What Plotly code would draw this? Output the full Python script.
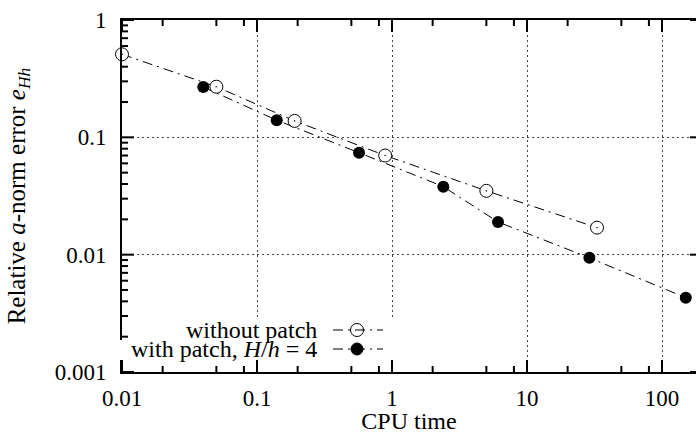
import plotly.graph_objects as go

# ---- data ----
cpu_without = [0.01, 0.05, 0.19, 0.89, 5.0, 33.0]
err_without = [0.51, 0.27, 0.138, 0.070, 0.035, 0.017]

cpu_with = [0.04, 0.14, 0.57, 2.4, 6.1, 29.0, 150.0]
err_with = [0.268, 0.14, 0.074, 0.038, 0.019, 0.0094, 0.0043]

name_without = "without patch"
name_with = "with patch, <i>H</i>/<i>h</i> = 4"

x_ticks = [0.01, 0.1, 1, 10, 100]
x_ticktext = ["0.01", "0.1", "1", "10", "100"]
x_minor = [0.02, 0.05, 0.08, 0.2, 0.5, 0.8, 2, 5, 8, 20, 50, 80]
y_ticks = [0.001, 0.01, 0.1, 1]
y_ticktext = ["0.001", "0.01", "0.1", "1"]
y_minor = [0.002, 0.003, 0.004, 0.005, 0.006, 0.007, 0.008, 0.009,
           0.02, 0.03, 0.04, 0.05, 0.06, 0.07, 0.08, 0.09,
           0.2, 0.3, 0.4, 0.5, 0.6, 0.7, 0.8, 0.9]

# ---- layout geometry (pixels) ----
W, H = 696, 434
L, R, T, B = 122, 0, 20, 62
PW, PH = W - L - R, H - T - B
PPD_X = 135.0
X_RANGE = [-2, -2 + PW / PPD_X]
Y_RANGE = [-3, 0]
PPD_Y = PH / (Y_RANGE[1] - Y_RANGE[0])

FONT = "Liberation Serif"
FS = 23
FS_TEXT = 24
DASH = "10px,5px,2px,5px"
MAJOR, MINOR, RIGHT = 12, 6, 6


def px(x):
    return (x - L) / PW


def py(y):
    return (H - B - y) / PH


fig = go.Figure()

# ---- inside tick marks, drawn through the log axes at the tick values ----
tx, ty = [], []
for vals, ln in ((x_ticks, MAJOR), (x_minor, MINOR)):
    d = ln / PPD_Y
    for v in vals:
        tx += [v, v, None, v, v, None]
        ty += [10 ** Y_RANGE[0], 10 ** (Y_RANGE[0] + d), None,
               10 ** Y_RANGE[1], 10 ** (Y_RANGE[1] - d), None]
for vals, ln in ((y_ticks, MAJOR), (y_minor, MINOR)):
    d = ln / PPD_X
    for v in vals:
        tx += [10 ** X_RANGE[0], 10 ** (X_RANGE[0] + d), None]
        ty += [v, v, None]
for v in y_ticks:
    tx += [10 ** X_RANGE[1], 10 ** (X_RANGE[1] - RIGHT / PPD_X), None]
    ty += [v, v, None]
fig.add_trace(go.Scatter(
    x=tx, y=ty, mode="lines", line=dict(color="black", width=2),
    hoverinfo="skip", showlegend=False, connectgaps=False,
))

fig.add_trace(go.Scatter(
    x=cpu_with, y=err_with, mode="lines+markers", name=name_with,
    line=dict(color="black", width=1, dash=DASH),
    marker=dict(symbol="circle", size=12, color="black"),
    showlegend=False, cliponaxis=False,
))
fig.add_trace(go.Scatter(
    x=cpu_without, y=err_without, mode="lines+markers", name=name_without,
    line=dict(color="black", width=1, dash=DASH),
    marker=dict(symbol="circle-dot", size=13, color="white",
                line=dict(color="black", width=1)),
    showlegend=False, cliponaxis=False,
))

fig.update_layout(
    template="none",
    width=W, height=H,
    margin=dict(l=L, r=R, t=T, b=B, pad=0),
    paper_bgcolor="white", plot_bgcolor="white",
    font=dict(family=FONT, size=FS, color="black"),
    xaxis=dict(
        type="log", range=X_RANGE, ticks="", showline=True, linecolor="black",
        linewidth=2, mirror=True,
        showgrid=True, gridcolor="#444", gridwidth=1, griddash="2px,3px",
        zeroline=False, tickfont=dict(family=FONT, size=FS, color="black"),
        tickmode="array", tickvals=x_ticks, ticktext=x_ticktext,
        ticklabelstandoff=4,
        title=dict(text="CPU time", font=dict(family=FONT, size=FS_TEXT), standoff=4),
    ),
    yaxis=dict(
        type="log", range=Y_RANGE, ticks="", showline=True, linecolor="black",
        linewidth=2, mirror=False,
        showgrid=True, gridcolor="#444", gridwidth=1, griddash="2px,3px",
        zeroline=False, tickfont=dict(family=FONT, size=FS, color="black"),
        tickmode="array", tickvals=y_ticks, ticktext=y_ticktext,
        ticklabelstandoff=9,
        title=dict(text="Relative <i>a</i>-norm error <i>e</i><sub><i>Hh</i></sub>",
                   font=dict(family=FONT, size=FS_TEXT + 1), standoff=22),
    ),
)

# ---- key (text right-aligned, sample to the right, opaque boxes) ----
shapes = []
shapes.append(dict(type="rect", xref="paper", yref="paper", layer="above",
                   x0=px(172), x1=px(396), y0=py(340), y1=py(318),
                   fillcolor="white", line=dict(width=0)))
shapes.append(dict(type="rect", xref="paper", yref="paper", layer="above",
                   x0=px(104), x1=px(396), y0=py(360), y1=py(340),
                   fillcolor="white", line=dict(width=0)))
for yy in (330, 349):
    shapes.append(dict(type="line", xref="paper", yref="paper", layer="above",
                       x0=px(333), x1=px(383), y0=py(yy), y1=py(yy),
                       line=dict(color="black", width=1, dash=DASH)))
r1, r2 = 6.5, 6.0
shapes.append(dict(type="circle", xref="paper", yref="paper", layer="above",
                   x0=px(357 - r1), x1=px(357 + r1), y0=py(330 + r1), y1=py(330 - r1),
                   fillcolor="rgba(0,0,0,0)", line=dict(color="black", width=1)))
shapes.append(dict(type="circle", xref="paper", yref="paper", layer="above",
                   x0=px(357 - r2), x1=px(357 + r2), y0=py(349 + r2), y1=py(349 - r2),
                   fillcolor="black", line=dict(color="black", width=1)))
fig.update_layout(shapes=shapes)

for txt, yy in ((name_without, 330), (name_with, 349)):
    fig.add_annotation(text=txt, xref="paper", yref="paper", x=px(319), y=py(yy),
                       xanchor="right", yanchor="middle", showarrow=False,
                       font=dict(family=FONT, size=FS_TEXT, color="black"))

fig.write_html("out.html")
